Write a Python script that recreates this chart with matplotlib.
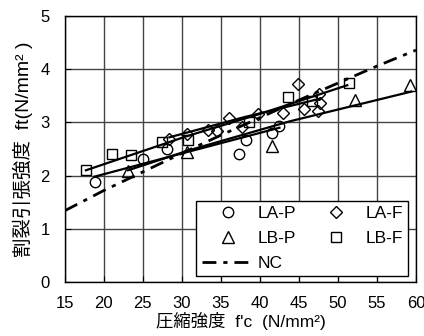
import matplotlib
matplotlib.use("Agg")
import matplotlib.pyplot as plt
from matplotlib.lines import Line2D

plt.rcParams['font.family'] = ['Liberation Sans', 'Noto Sans CJK JP', 'DejaVu Sans']

# measured points
la_p_x = [18.8, 25.0, 28.1, 37.3, 38.2, 41.6, 42.5]
la_p_y = [1.88, 2.32, 2.50, 2.40, 2.67, 2.80, 2.93]

la_f_x = [28.4, 30.6, 33.4, 34.5, 36.1, 37.7, 39.7, 42.9, 44.9, 45.6, 47.4, 47.6, 47.7]
la_f_y = [2.69, 2.78, 2.85, 2.83, 3.08, 2.91, 3.15, 3.17, 3.73, 3.26, 3.22, 3.53, 3.36]

lb_p_x = [23.1, 30.6, 41.6, 52.2, 59.3]
lb_p_y = [2.08, 2.44, 2.56, 3.42, 3.70]

lb_f_x = [17.7, 21.0, 23.5, 27.5, 30.8, 38.6, 43.6, 46.7, 51.4]
lb_f_y = [2.10, 2.41, 2.38, 2.63, 2.67, 3.01, 3.48, 3.40, 3.74]

# fitted curves
fit_la_p_x = [18.8, 30.6, 42.5]
fit_la_p_y = [1.98, 2.44, 2.90]
fit_lb_p_x = [23.1, 31.0, 43.8, 59.4]
fit_lb_p_y = [2.10, 2.48, 3.02, 3.58]
fit_la_f_x = [28.4, 38.0, 47.8]
fit_la_f_y = [2.72, 3.10, 3.45]
fit_lb_f_x = [17.7, 30.6, 40.0, 51.2]
fit_lb_f_y = [2.10, 2.74, 3.16, 3.70]

# NC reference curve
nc_x = [15, 20, 25, 30, 35, 40, 45, 50, 55, 60]
nc_y = [1.34, 1.72, 2.07, 2.42, 2.76, 3.09, 3.42, 3.74, 4.06, 4.36]

fig = plt.figure(figsize=(4.24, 3.36), dpi=100)
ax = fig.add_axes([0.153, 0.161, 0.828, 0.791])

ax.grid(True, color='#444444', linewidth=1.0)
ax.set_axisbelow(True)

for fx, fy in [(fit_la_p_x, fit_la_p_y), (fit_lb_p_x, fit_lb_p_y),
               (fit_la_f_x, fit_la_f_y), (fit_lb_f_x, fit_lb_f_y)]:
    ax.plot(fx, fy, color='black', lw=1.6, zorder=3)

mk = dict(linestyle='none', mfc='none', mec='black', mew=1.0, zorder=4)
ax.plot(la_p_x, la_p_y, marker='o', ms=7.5, **mk)
ax.plot(la_f_x, la_f_y, marker='D', ms=6, **mk)
ax.plot(lb_p_x, lb_p_y, marker='^', ms=8, **mk)
ax.plot(lb_f_x, lb_f_y, marker='s', ms=7.5, **mk)

nc_line, = ax.plot(nc_x, nc_y, color='black', lw=2.0, zorder=5)
nc_line.set_dashes([5, 2.5, 1.5, 2.5])

ax.set_xlim(15, 60)
ax.set_ylim(0, 5)
ax.set_xticks(range(15, 61, 5))
ax.set_yticks(range(0, 6))
ax.tick_params(direction='in', labelsize=12, length=4)
ax.tick_params(axis='x', pad=10)
ax.tick_params(axis='y', pad=11)
for s in ax.spines.values():
    s.set_color('black')
    s.set_linewidth(1.0)

ax.set_xlabel("圧縮強度  f'c  (N/mm²)", fontsize=12.5, labelpad=1)
ax.set_ylabel("割裂引張強度  ft(N/mm² )", fontsize=14, labelpad=5)

h_lap = Line2D([], [], marker='o', ms=7.5, **mk)
h_laf = Line2D([], [], marker='D', ms=6, **mk)
h_lbp = Line2D([], [], marker='^', ms=8, **mk)
h_lbf = Line2D([], [], marker='s', ms=7.5, **mk)
h_nc = Line2D([], [], color='black', lw=2.0, dashes=[5, 2.5, 1.5, 2.5])

leg = ax.legend([h_lap, h_lbp, h_nc, h_laf, h_lbf],
                ['LA-P', 'LB-P', 'NC', 'LA-F', 'LB-F'],
                ncol=2, loc='lower right', bbox_to_anchor=(0.977, 0.023),
                fontsize=12.5, handlelength=3.0, handletextpad=0.2,
                columnspacing=0.8, labelspacing=0.55, borderpad=0.3,
                borderaxespad=0, fancybox=False, framealpha=1,
                edgecolor='black')
leg.get_frame().set_linewidth(1.0)

fig.savefig('out.png', dpi=100)
